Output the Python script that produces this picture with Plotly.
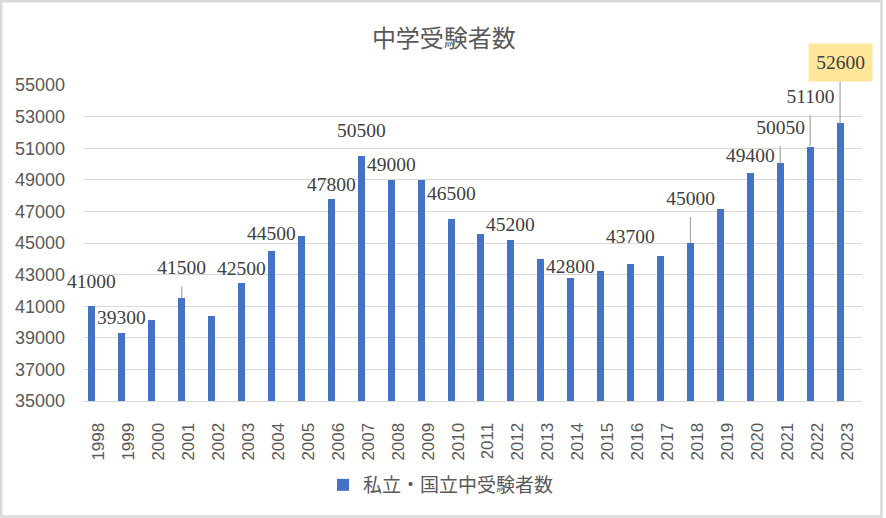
import plotly.graph_objects as go

# ---- data ----
years = [str(y) for y in range(1998, 2024)]
applicants = [41000, 39300, 40100, 41500, 40350, 42500, 44500, 45450, 47800, 50500,
              49000, 49000, 46500, 45600, 45200, 44000, 42800, 43200, 43700, 44150,
              45000, 47150, 49400, 50050, 51100, 52600]
series_name = "私立・国立中受験者数"
title_text = "中学受験者数"
y_ticks = list(range(35000, 55001, 2000))

# data labels: year -> (pixel offset above bar top, leader line?, highlighted?)
label_style = {
    "1998": (25, False, False), "1999": (16, False, False), "2001": (31, True, False),
    "2003": (14, False, False), "2004": (17, False, False), "2006": (14.5, False, False),
    "2007": (26, False, False), "2008": (15.5, False, False), "2010": (26, False, False),
    "2012": (15.5, False, False), "2014": (11.5, False, False), "2016": (27, False, False),
    "2018": (45, True, False), "2020": (17.5, False, False), "2021": (36, True, False),
    "2022": (50.6, True, False), "2023": (60.3, True, True),
}

L, R, T, B = 84, 24, 85, 117
W, H = 886, 518
PW, PH = W - L - R, H - T - B
cat_px = PW / len(years)
bar_w = 7 / cat_px
bar_off = -0.35
xs = (bar_off + bar_w / 2) * cat_px  # pixel shift of bar centre from category centre

fig = go.Figure()
fig.add_trace(go.Bar(
    x=years, y=applicants, name=series_name,
    marker=dict(color="#4472C4", line=dict(width=0)),
    width=bar_w, offset=bar_off, showlegend=True,
))

label_font = dict(family="Liberation Serif, DejaVu Serif, serif", size=19.5, color="#404040")
for i, (yr, val) in enumerate(zip(years, applicants)):
    if yr not in label_style:
        continue
    off, arrow, hl = label_style[yr]
    txt = f"{val}"
    if arrow:
        ann = dict(x=i, y=val, xref="x", yref="y", text=txt, font=label_font,
                   showarrow=True, arrowhead=0, arrowwidth=1.2, arrowcolor="#A6A6A6",
                   ax=0, ay=-off, standoff=0, xshift=xs,
                   width=63, height=37, borderpad=0, align="center", valign="middle")
        if hl:
            ann["bgcolor"] = "#FFE699"
        fig.add_annotation(**ann)
    else:
        fig.add_annotation(x=i, y=val, xref="x", yref="y", text=txt, font=label_font,
                           showarrow=False, xshift=xs, yshift=off,
                           xanchor="center", yanchor="middle")

# chart border
def px_x(p):
    return (p - L) / PW

def px_y(p):
    return (H - B - p) / PH

fig.add_shape(type="rect", xref="paper", yref="paper",
              x0=px_x(1.2), x1=px_x(881.5), y0=px_y(516.5), y1=px_y(1.2),
              line=dict(color="#D9D9D9", width=2.5), fillcolor="rgba(0,0,0,0)", layer="below")

fig.update_layout(
    width=W, height=H,
    margin=dict(l=L, r=R, t=T, b=B, pad=0),
    paper_bgcolor="white", plot_bgcolor="white",
    title=dict(text=title_text, x=0.501, xref="container", xanchor="center",
               y=1 - 39 / H, yref="container", yanchor="middle",
               font=dict(family="Noto Sans CJK JP, sans-serif", size=24, color="#595959")),
    showlegend=True,
    legend=dict(orientation="h", x=px_x(441), xanchor="center", y=px_y(485), yanchor="middle",
                font=dict(family="Noto Sans CJK JP, sans-serif", size=19, color="#595959"),
                bgcolor="rgba(0,0,0,0)"),
    bargap=0,
)
fig.update_xaxes(type="category", range=[-0.5, len(years) - 0.5], tickangle=-90,
                 showgrid=False, showline=True, linecolor="#D9D9D9", linewidth=1,
                 ticks="", ticklabelstandoff=14,
                 tickfont=dict(family="Liberation Sans, Arial, sans-serif", size=17, color="#595959"))
fig.update_yaxes(range=[35000, 55000], tickvals=y_ticks, ticktext=[str(v) for v in y_ticks],
                 showgrid=True, gridcolor="#D9D9D9", gridwidth=1, zeroline=False,
                 showline=False, ticks="", ticklabelstandoff=18,
                 tickfont=dict(family="Liberation Sans, Arial, sans-serif", size=18, color="#595959"))

fig.write_html("out.html")
